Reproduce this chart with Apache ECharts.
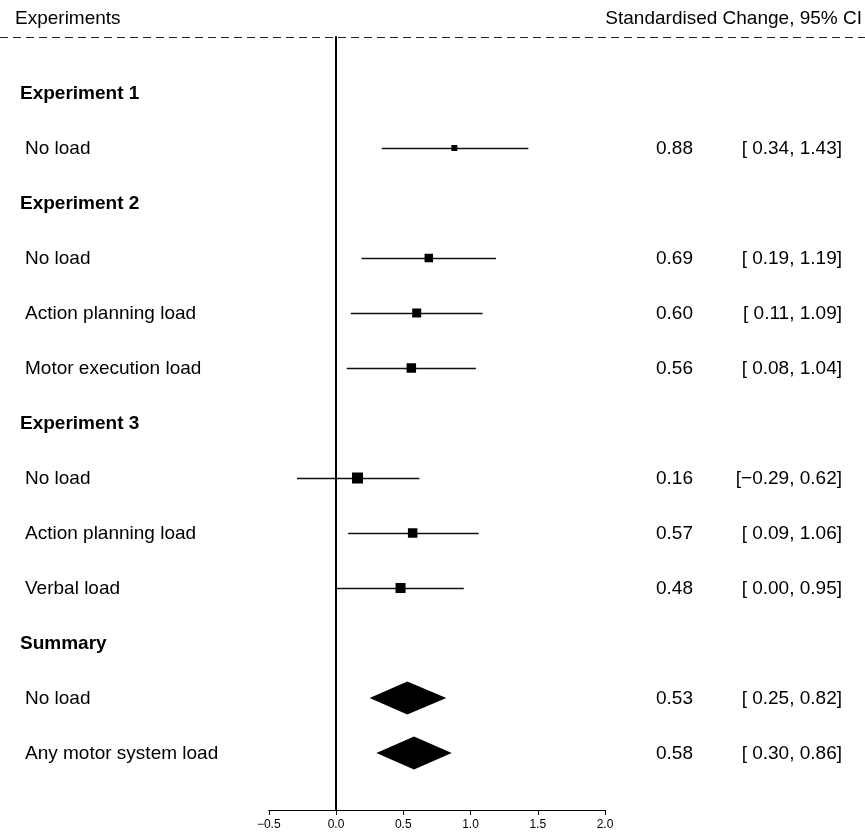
<!DOCTYPE html>
<html>
<head>
<meta charset="utf-8">
<script src="https://cdn.jsdelivr.net/npm/echarts@6/dist/echarts.min.js"></script>
<style>html,body{margin:0;padding:0;background:#fff}#c{width:865px;height:832px}</style>
</head>
<body>
<div id="c"></div>
<script>
// ---- data ----
var rowLabels = ['Experiment 1','No load','Experiment 2','No load','Action planning load','Motor execution load','Experiment 3','No load','Action planning load','Verbal load','Summary','No load','Any motor system load'];
var rowIsHeader = [true,false,true,false,false,false,true,false,false,false,true,false,false];
// study-level estimates
var studyRows = [1,3,4,5,7,8,9];
var studyEst  = [0.88,0.69,0.60,0.56,0.16,0.57,0.48];
var studyLo   = [0.34,0.19,0.11,0.08,-0.29,0.09,0.00];
var studyHi   = [1.43,1.19,1.09,1.04,0.62,1.06,0.95];
var studyWeight = [6,8.5,9,9.5,11,9.5,10];
// summary estimates
var summaryRows = [11,12];
var summaryEst  = [0.53,0.58];
var summaryLo   = [0.25,0.30];
var summaryHi   = [0.82,0.86];
// axis ticks
var xTicks = [-0.5,0,0.5,1.0,1.5,2.0];
var headerLeft = 'Experiments';
var headerRight = 'Standardised Change, 95% CI';

var FONT = "'Liberation Sans', Arial, Helvetica, sans-serif";
var FS = 19;

function fmt(v){ var s = Math.abs(v).toFixed(2); return (v < 0 ? '\u2212' : ' ') + s; }

var chart = echarts.init(document.getElementById('c'), null, {renderer:'canvas'});

var studyData = studyRows.map(function(r,i){ return [studyEst[i], studyLo[i], studyHi[i], r, studyWeight[i]]; });
var summaryData = summaryRows.map(function(r,i){ return [summaryEst[i], summaryLo[i], summaryHi[i], r]; });
var labelData = rowLabels.map(function(t,i){ return [0, i]; });
var allRows = studyRows.concat(summaryRows);
var allEst = studyEst.concat(summaryEst);
var allLo = studyLo.concat(summaryLo);
var allHi = studyHi.concat(summaryHi);
var numData = allRows.map(function(r,i){ return [allEst[i], r]; });

var option = {
  animation:false,
  grid:{left:268.75, right:260, top:37, bottom:22, containLabel:false},
  xAxis:{
    type:'value', min:-0.5, max:2.0, interval:0.5,
    axisLine:{show:true, onZero:false, lineStyle:{color:'#000', width:1}},
    axisTick:{show:true, length:5, lineStyle:{color:'#000'}},
    axisLabel:{color:'#000', fontSize:12, fontFamily:FONT, margin:9,
      formatter:function(v){ return (v<0?'\u2212':'') + Math.abs(v).toFixed(1); }},
    splitLine:{show:false}
  },
  yAxis:{
    type:'value', inverse:true, min:-1.01818, max:13.03636,
    axisLine:{show:true, onZero:true, lineStyle:{color:'#000', width:2}},
    axisTick:{show:false}, axisLabel:{show:false}, splitLine:{show:false}
  },
  graphic:[
    {type:'text', left:15, top:9, style:{text:headerLeft, font:FS+'px '+FONT, fill:'#000'}},
    {type:'text', right:3, top:9, style:{text:headerRight, font:FS+'px '+FONT, fill:'#000'}},
    {type:'line', shape:{x1:0,y1:37.5,x2:865,y2:37.5}, style:{stroke:'#222', lineWidth:1, lineDash:[8,5]}}
  ],
  series:[
    {
      type:'custom', clip:false, data:studyData, z:5,
      renderItem:function(params, api){
        var p = api.coord([api.value(0), api.value(3)]);
        var a = api.coord([api.value(1), api.value(3)]);
        var b = api.coord([api.value(2), api.value(3)]);
        var s = api.value(4);
        return {type:'group', children:[
          {type:'line', shape:{x1:a[0], y1:a[1]+0.5, x2:b[0], y2:b[1]+0.5}, style:{stroke:'#111', lineWidth:1.3}},
          {type:'rect', shape:{x:p[0]-s/2, y:p[1]-s/2, width:s, height:s}, style:{fill:'#000'}}
        ]};
      }
    },
    {
      type:'custom', clip:false, data:summaryData, z:5,
      renderItem:function(params, api){
        var p = api.coord([api.value(0), api.value(3)]);
        var a = api.coord([api.value(1), api.value(3)]);
        var b = api.coord([api.value(2), api.value(3)]);
        var h = 16.5;
        return {type:'polygon', shape:{points:[[a[0],p[1]],[p[0],p[1]-h],[b[0],p[1]],[p[0],p[1]+h]]}, style:{fill:'#000'}};
      }
    },
    {
      type:'custom', clip:false, data:labelData, z:6,
      renderItem:function(params, api){
        var i = params.dataIndex;
        var y = api.coord([0, api.value(1)])[1] + 1;
        var hdr = rowIsHeader[i];
        return {type:'text', style:{text:rowLabels[i], x: hdr?20:25, y:y, fill:'#000',
          font:(hdr?'bold ':'') + FS+'px '+FONT, align:'left', verticalAlign:'middle'}};
      }
    },
    {
      type:'custom', clip:false, data:numData, z:6,
      renderItem:function(params, api){
        var i = params.dataIndex;
        var y = api.coord([0, api.value(1)])[1] + 1;
        return {type:'group', children:[
          {type:'text', style:{text:allEst[i].toFixed(2), x:693, y:y, fill:'#000', font:FS+'px '+FONT, align:'right', verticalAlign:'middle'}},
          {type:'text', style:{text:'['+fmt(allLo[i])+', '+allHi[i].toFixed(2)+']', x:842, y:y, fill:'#000', font:FS+'px '+FONT, align:'right', verticalAlign:'middle'}}
        ]};
      }
    }
  ]
};
chart.setOption(option);
</script>
</body>
</html>
